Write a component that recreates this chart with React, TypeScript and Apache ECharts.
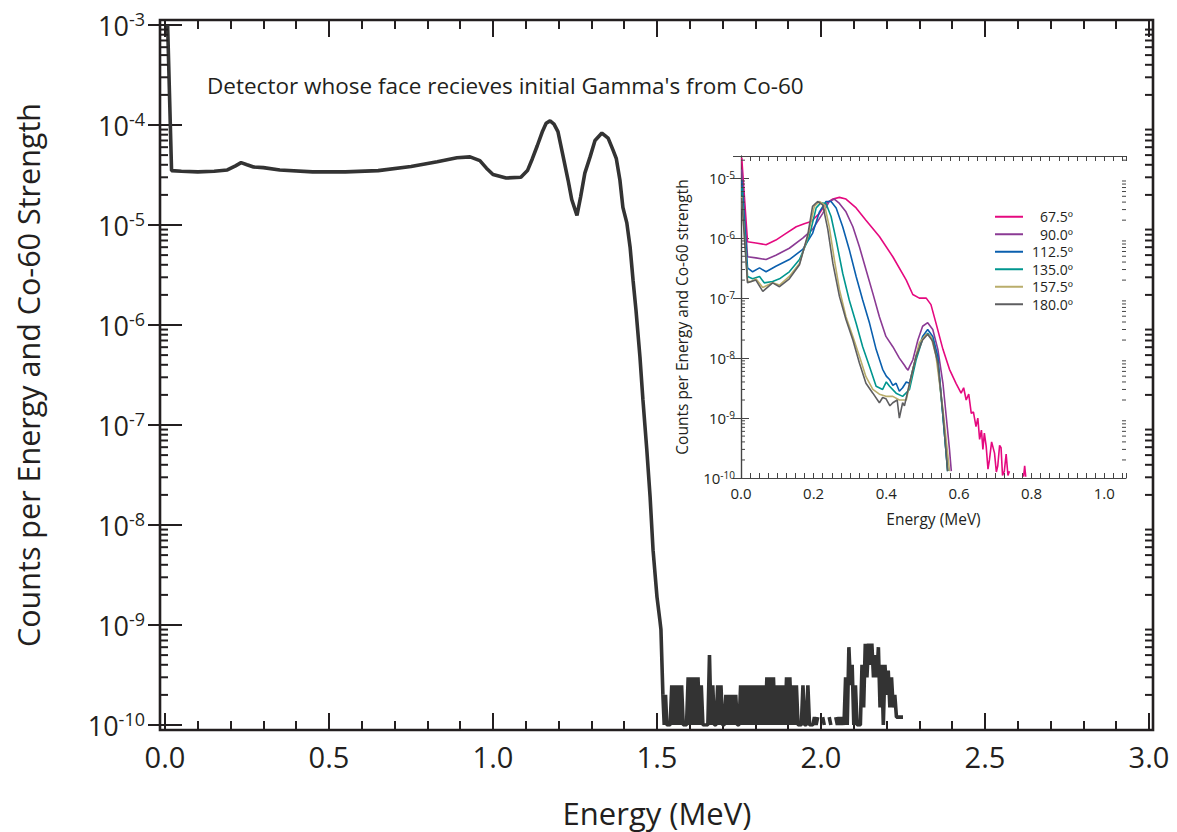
import { useEffect, useRef } from 'react';
import * as echarts from 'echarts';

const FONT = '"Open Sans", "Noto Sans", sans-serif';
const INK = '#231f20';

// ---------- main spectrum: [energy MeV, counts per energy & Co-60 strength] ----------
const mainSpectrum: [number, number | null][] = [
  [0.008, 1.0e-3], [0.02, 3.5e-5], [0.05, 3.45e-5], [0.1, 3.4e-5], [0.15, 3.45e-5],
  [0.19, 3.55e-5], [0.215, 3.9e-5], [0.232, 4.2e-5], [0.25, 4.0e-5], [0.27, 3.8e-5],
  [0.3, 3.75e-5], [0.35, 3.55e-5], [0.45, 3.4e-5], [0.55, 3.4e-5], [0.65, 3.5e-5],
  [0.75, 3.85e-5], [0.83, 4.3e-5], [0.89, 4.7e-5], [0.93, 4.8e-5], [0.96, 4.4e-5],
  [0.98, 3.7e-5], [1.0, 3.2e-5], [1.04, 2.95e-5], [1.085, 3.0e-5], [1.105, 3.5e-5],
  [1.12, 4.6e-5], [1.135, 6.2e-5], [1.15, 8.5e-5], [1.162, 1.04e-4], [1.174, 1.1e-4],
  [1.186, 1.02e-4], [1.198, 8.6e-5], [1.213, 5.0e-5], [1.229, 2.8e-5], [1.24, 1.8e-5],
  [1.256, 1.25e-5], [1.267, 1.9e-5], [1.28, 3.3e-5], [1.296, 4.8e-5], [1.311, 7.0e-5],
  [1.332, 8.3e-5], [1.351, 7.4e-5], [1.366, 5.6e-5], [1.376, 4.6e-5], [1.387, 2.8e-5],
  [1.396, 1.5e-5], [1.408, 1.05e-5], [1.418, 6.0e-6], [1.427, 2.8e-6], [1.436, 1.4e-6],
  [1.448, 4.8e-7], [1.457, 1.8e-7], [1.469, 5.6e-8], [1.479, 1.9e-8], [1.488, 5.6e-9],
  [1.5, 1.9e-9], [1.509, 1.1e-9], [1.512, 9.0e-10], [1.518, 2.0e-10],
];
// finely binned low-count tail above the Co-60 lines
const mainTail: [number, number | null][] = [
  [1.518, 2.0e-10], [1.522, 1.0e-10], [1.526, 2.0e-10], [1.53, 1.0e-10], [1.535, 1.0e-10],
  [1.54, 1.0e-10], [1.545, 2.5e-10], [1.55, 1.0e-10], [1.555, 2.5e-10], [1.56, 1.0e-10],
  [1.565, 2.5e-10], [1.57, 1.0e-10], [1.575, 2.5e-10], [1.58, 1.0e-10], [1.585, 1.0e-10],
  [1.59, 1.0e-10], [1.595, 3.0e-10], [1.6, 1.0e-10], [1.605, 3.0e-10], [1.61, 1.0e-10],
  [1.615, 3.0e-10], [1.62, 1.0e-10], [1.625, 3.0e-10], [1.63, 1.0e-10], [1.635, 2.5e-10],
  [1.64, 1.0e-10], [1.645, 1.0e-10], [1.65, 1.0e-10], [1.655, 1.0e-10], [1.66, 5.0e-10],
  [1.665, 1.0e-10], [1.67, 2.5e-10], [1.675, 1.0e-10], [1.68, 1.0e-10], [1.685, 2.5e-10],
  [1.69, 1.0e-10], [1.695, 2.5e-10], [1.7, 1.0e-10], [1.705, 1.0e-10], [1.71, 2.0e-10],
  [1.715, 1.0e-10], [1.72, 2.0e-10], [1.725, 1.0e-10], [1.73, 2.0e-10], [1.735, 1.0e-10],
  [1.74, 2.0e-10], [1.745, 1.0e-10], [1.75, 1.0e-10], [1.755, 2.5e-10], [1.76, 1.0e-10],
  [1.765, 2.5e-10], [1.77, 1.0e-10], [1.775, 2.5e-10], [1.78, 1.0e-10], [1.785, 2.5e-10],
  [1.79, 1.0e-10], [1.795, 2.5e-10], [1.8, 1.0e-10], [1.805, 2.5e-10], [1.81, 1.0e-10],
  [1.815, 2.5e-10], [1.82, 1.0e-10], [1.825, 2.5e-10], [1.83, 1.0e-10], [1.835, 3.0e-10],
  [1.84, 1.0e-10], [1.845, 3.0e-10], [1.85, 1.0e-10], [1.855, 3.0e-10], [1.86, 1.0e-10],
  [1.865, 2.5e-10], [1.87, 1.0e-10], [1.875, 2.5e-10], [1.88, 1.0e-10], [1.885, 2.5e-10],
  [1.89, 1.0e-10], [1.895, 3.0e-10], [1.9, 1.0e-10], [1.905, 3.0e-10], [1.91, 1.0e-10],
  [1.915, 2.5e-10], [1.92, 1.0e-10], [1.925, 2.5e-10], [1.93, 1.0e-10], [1.935, 1.0e-10],
  [1.94, 1.0e-10], [1.945, 2.5e-10], [1.95, 1.0e-10], [1.955, 1.0e-10], [1.96, 2.5e-10],
  [1.965, 1.0e-10], [1.97, 1.0e-10], [1.975, 1.0e-10], [1.98, 1.2e-10], [1.985, 1.0e-10],
  [1.99, 1.2e-10], [1.995, null], [2.005, 1.2e-10], [2.01, 1.0e-10], [2.015, null],
  [2.025, 1.2e-10], [2.03, 1.0e-10], [2.035, null], [2.045, 1.2e-10], [2.05, 1.0e-10],
  [2.055, 1.2e-10], [2.06, 1.0e-10], [2.065, 1.2e-10], [2.07, 1.0e-10], [2.075, 3.0e-10],
  [2.08, 1.0e-10], [2.085, 6.0e-10], [2.09, 2.5e-10], [2.095, 4.0e-10], [2.1, 1.0e-10],
  [2.105, 2.5e-10], [2.11, 1.0e-10], [2.115, 1.0e-10], [2.12, 1.0e-10], [2.125, 4.0e-10],
  [2.13, 1.5e-10], [2.135, 6.5e-10], [2.14, 3.0e-10], [2.145, 6.5e-10], [2.15, 4.0e-10],
  [2.155, 6.5e-10], [2.16, 3.0e-10], [2.165, 5.0e-10], [2.17, 3.0e-10], [2.175, 6.0e-10],
  [2.18, 1.5e-10], [2.185, 4.0e-10], [2.19, 1.0e-10], [2.195, 4.0e-10], [2.2, 2.0e-10],
  [2.205, 3.5e-10], [2.21, 1.5e-10], [2.215, 3.0e-10], [2.22, 1.5e-10], [2.225, 2.0e-10],
  [2.23, 1.2e-10], [2.24, 1.2e-10], [2.25, 1.2e-10],
];

// ---------- inset: spectra by detector angle ----------
const angleNames = ['67.5º', '90.0º', '112.5º', '135.0º', '157.5º', '180.0º'];
const angleColors = ['#e5097f', '#8b3a94', '#0a5fae', '#00968f', '#b9ad6b', '#5e5e60'];

const angle675: [number, number | null][] = [
  [0.002, 2.2e-5], [0.018, 8.7e-7], [0.041, 8.3e-7], [0.069, 7.8e-7], [0.096, 9.3e-7],
  [0.124, 1.2e-6], [0.152, 1.55e-6], [0.174, 1.74e-6], [0.193, 1.9e-6], [0.216, 2.6e-6],
  [0.234, 3.8e-6], [0.253, 4.5e-6], [0.271, 4.8e-6], [0.289, 4.5e-6], [0.317, 3.2e-6],
  [0.344, 2.0e-6], [0.381, 1.07e-6], [0.418, 4.9e-7], [0.455, 2.0e-7], [0.473, 1.15e-7],
  [0.491, 1.0e-7], [0.51, 1.0e-7], [0.523, 7.8e-8], [0.537, 3.8e-8], [0.556, 1.4e-8],
  [0.574, 6.5e-9], [0.592, 3.8e-9], [0.606, 2.6e-9], [0.613, 3.2e-9], [0.62, 2.0e-9],
  [0.627, 2.5e-9], [0.634, 1.2e-9], [0.64, 1.26e-9], [0.647, 7.2e-10], [0.652, 1.0e-9],
  [0.657, 4.4e-10], [0.662, 6.3e-10], [0.666, 3.0e-10], [0.67, 5.6e-10], [0.675, 3.4e-10],
  [0.68, 1.4e-10], [0.684, 2.0e-10], [0.69, 4.0e-10], [0.698, 2.6e-10], [0.703, 1.26e-10],
  [0.707, 1.6e-10], [0.712, 3.5e-10], [0.716, 3.2e-10], [0.72, 1.1e-10], [0.725, 1.3e-10],
  [0.73, 2.5e-10], [0.735, 1.1e-10], [0.739, 1.3e-10], [0.745, null],
  [0.778, 1.05e-10], [0.781, 1.6e-10], [0.784, 1.05e-10],
];
const angle900: [number, number | null][] = [
  [0.002, 1.4e-5], [0.018, 4.9e-7], [0.041, 4.7e-7], [0.069, 4.4e-7], [0.096, 5.2e-7],
  [0.133, 6.8e-7], [0.17, 1.0e-6], [0.197, 1.4e-6], [0.225, 2.6e-6], [0.243, 4.1e-6],
  [0.257, 4.5e-6], [0.271, 3.8e-6], [0.289, 2.75e-6], [0.308, 1.55e-6], [0.326, 7.2e-7],
  [0.344, 3.0e-7], [0.363, 1.2e-7], [0.381, 4.9e-8], [0.399, 2.3e-8], [0.418, 1.55e-8],
  [0.436, 1.0e-8], [0.45, 7.6e-9], [0.455, 6.8e-9], [0.46, 6.3e-9], [0.464, 7.2e-9],
  [0.473, 9.3e-9], [0.487, 2.0e-8], [0.5, 3.4e-8], [0.514, 3.9e-8], [0.528, 3.0e-8],
  [0.542, 1.4e-8], [0.556, 3.8e-9], [0.565, 1.07e-9], [0.574, 3.0e-10], [0.579, 1.3e-10],
];
const angle1125: [number, number | null][] = [
  [0.002, 9.3e-6], [0.018, 3.2e-7], [0.032, 2.75e-7], [0.051, 3.2e-7], [0.069, 2.75e-7],
  [0.096, 3.4e-7], [0.133, 4.4e-7], [0.17, 6.5e-7], [0.197, 1.2e-6], [0.216, 2.75e-6],
  [0.234, 4.1e-6], [0.248, 4.1e-6], [0.262, 3.2e-6], [0.28, 1.55e-6], [0.298, 6.5e-7],
  [0.317, 2.3e-7], [0.335, 9.3e-8], [0.354, 3.8e-8], [0.372, 1.4e-8], [0.39, 6.5e-9],
  [0.4, 5.0e-9], [0.409, 4.4e-9], [0.418, 3.5e-9], [0.427, 3.8e-9], [0.436, 2.8e-9],
  [0.445, 3.2e-9], [0.455, 4.0e-9], [0.464, 3.8e-9], [0.482, 1.07e-8], [0.5, 2.3e-8],
  [0.514, 3.0e-8], [0.528, 2.3e-8], [0.542, 1.07e-8], [0.556, 1.07e-9], [0.569, 1.3e-10],
];
const angle1350: [number, number | null][] = [
  [0.002, 7.2e-6], [0.018, 2.3e-7], [0.032, 2.1e-7], [0.051, 2.3e-7], [0.064, 1.8e-7],
  [0.087, 1.9e-7], [0.106, 2.1e-7], [0.133, 2.75e-7], [0.161, 4.4e-7], [0.188, 1.07e-6],
  [0.207, 3.2e-6], [0.22, 3.9e-6], [0.234, 3.8e-6], [0.248, 2.3e-6], [0.262, 9.3e-7],
  [0.28, 2.6e-7], [0.298, 9.3e-8], [0.317, 3.8e-8], [0.335, 1.55e-8], [0.354, 7.2e-9],
  [0.372, 3.4e-9], [0.39, 3.0e-9], [0.4, 4.0e-9], [0.409, 3.4e-9], [0.427, 2.6e-9],
  [0.445, 2.3e-9], [0.464, 3.0e-9], [0.482, 9.3e-9], [0.5, 2.1e-8], [0.514, 2.6e-8],
  [0.528, 2.0e-8], [0.542, 8.3e-9], [0.556, 1.07e-9], [0.569, 1.3e-10],
];
const angle1575: [number, number | null][] = [
  [0.002, 4.9e-6], [0.018, 1.9e-7], [0.028, 1.9e-7], [0.041, 2.1e-7], [0.06, 1.5e-7],
  [0.087, 1.8e-7], [0.106, 1.65e-7], [0.133, 2.3e-7], [0.161, 3.8e-7], [0.184, 1.07e-6],
  [0.202, 3.4e-6], [0.216, 4.1e-6], [0.23, 3.6e-6], [0.243, 1.55e-6], [0.257, 4.4e-7],
  [0.271, 1.4e-7], [0.289, 4.9e-8], [0.308, 2.3e-8], [0.326, 1.07e-8], [0.344, 4.9e-9],
  [0.363, 3.0e-9], [0.381, 2.5e-9], [0.399, 2.3e-9], [0.418, 2.3e-9], [0.436, 2.0e-9],
  [0.455, 2.0e-9], [0.473, 6.5e-9], [0.491, 1.8e-8], [0.51, 2.5e-8], [0.523, 2.3e-8],
  [0.537, 1.07e-8], [0.556, 1.4e-9], [0.574, 1.3e-10],
];
const angle1800: [number, number | null][] = [
  [0.002, 4.7e-6], [0.018, 1.8e-7], [0.041, 2.0e-7], [0.06, 1.3e-7], [0.087, 1.8e-7],
  [0.106, 1.55e-7], [0.133, 2.1e-7], [0.161, 3.6e-7], [0.184, 1.15e-6], [0.197, 3.4e-6],
  [0.211, 4.1e-6], [0.225, 3.6e-6], [0.239, 1.4e-6], [0.253, 3.8e-7], [0.271, 1.07e-7],
  [0.289, 4.4e-8], [0.308, 2.0e-8], [0.326, 8.3e-9], [0.344, 3.8e-9], [0.363, 2.6e-9],
  [0.381, 1.8e-9], [0.39, 2.2e-9], [0.399, 2.1e-9], [0.41, 1.6e-9], [0.418, 1.8e-9],
  [0.43, 2.0e-9], [0.436, 1.0e-9], [0.445, 1.8e-9], [0.45, 1.6e-9], [0.464, 3.8e-9],
  [0.482, 1.07e-8], [0.5, 2.0e-8], [0.514, 2.5e-8], [0.528, 1.9e-8], [0.542, 8.3e-9],
  [0.556, 1.2e-9], [0.569, 1.3e-10],
];
const angleSeries = [angle675, angle900, angle1125, angle1350, angle1575, angle1800];

const mainXTicks = [0, 0.5, 1.0, 1.5, 2.0, 2.5, 3.0];
const insetXTicks = [0, 0.2, 0.4, 0.6, 0.8, 1.0];

const texts = {
  annotation: "Detector whose face recieves initial Gamma's from Co-60",
  mainX: 'Energy (MeV)',
  mainY: 'Counts per Energy and Co-60 Strength',
  insetX: 'Energy (MeV)',
  insetY: 'Counts per Energy and Co-60 strength',
};

const powLabel = (v: number) => {
  const e = Math.log10(v);
  const r = Math.round(e);
  if (Math.abs(e - r) > 1e-6) return '';
  return `{b|10}{s|${r}}`;
};

const near = (v: number, list: number[]) => list.some((t) => Math.abs(t - v) < 1e-6);

export default function App() {
  const ref = useRef<HTMLDivElement>(null);

  useEffect(() => {
    if (!ref.current) return;
    const chart = echarts.init(ref.current, null, { renderer: 'svg' });

    const mainTick = { show: true, inside: true, length: 17, lineStyle: { color: INK, width: 2 } };
    const mainMinor = { show: true, splitNumber: 5, length: 9, lineStyle: { color: INK, width: 2 } };
    const insetTick = { show: true, inside: true, length: 5, lineStyle: { color: '#444', width: 1 } };
    const insetLine = { show: true, lineStyle: { color: '#444', width: 1.2 } };
    const mainLine = { color: '#333333', width: 3.6 };

    const option: any = {
      animation: false,
      backgroundColor: '#ffffff',
      textStyle: { fontFamily: FONT },
      grid: [
        { left: 165, top: 25, width: 984, height: 700, outerBoundsMode: 'none' },
        { left: 741, top: 156, width: 385, height: 322, outerBoundsMode: 'none' },
      ],
      xAxis: [
        {
          gridIndex: 0, type: 'value', min: 0, max: 3, interval: 0.5, position: 'bottom', offset: 5,
          axisLine: { show: false }, axisTick: mainTick, minorTick: mainMinor,
          splitLine: { show: false }, minorSplitLine: { show: false },
          axisLabel: {
            fontSize: 29, color: INK, margin: 12, fontFamily: FONT,
            formatter: (v: number) => (near(v, mainXTicks) ? v.toFixed(1) : ''),
          },
          name: texts.mainX, nameLocation: 'middle', nameGap: 67,
          nameTextStyle: { fontSize: 31, color: INK, fontFamily: FONT },
        },
        {
          gridIndex: 0, type: 'value', min: 0, max: 3, interval: 0.5, position: 'top', offset: 5,
          axisLine: { show: false }, axisTick: mainTick, minorTick: mainMinor,
          splitLine: { show: false }, axisLabel: { show: false },
        },
        {
          gridIndex: 1, type: 'value', min: 0, max: 1.06, interval: 0.025, position: 'bottom',
          axisLine: insetLine, axisTick: insetTick, splitLine: { show: false },
          axisLabel: {
            fontSize: 15, color: INK, margin: 7, fontFamily: FONT,
            formatter: (v: number) => (near(v, insetXTicks) ? v.toFixed(1) : ''),
          },
          name: texts.insetX, nameLocation: 'middle', nameGap: 33,
          nameTextStyle: { fontSize: 15.5, color: INK, fontFamily: FONT },
        },
        {
          gridIndex: 1, type: 'value', min: 0, max: 1.06, interval: 0.025, position: 'top',
          axisLine: insetLine, axisTick: insetTick, splitLine: { show: false }, axisLabel: { show: false },
        },
      ],
      yAxis: [
        {
          gridIndex: 0, type: 'log', logBase: 10, min: 1e-10, max: 1e-3, position: 'left', offset: 5,
          axisLine: { show: false }, axisTick: mainTick, splitLine: { show: false },
          axisLabel: {
            margin: 15, color: INK, formatter: powLabel,
            rich: {
              b: { fontSize: 27, lineHeight: 30, color: INK, fontFamily: FONT },
              s: { fontSize: 18, lineHeight: 16, verticalAlign: 'top', color: INK, fontFamily: FONT },
            },
          },
          name: texts.mainY, nameLocation: 'middle', nameGap: 117,
          nameTextStyle: { fontSize: 30.5, color: INK, fontFamily: FONT },
        },
        {
          gridIndex: 0, type: 'log', logBase: 10, min: 1e-10, max: 1e-3, position: 'right', offset: 4,
          axisLine: { show: false }, axisTick: mainTick, splitLine: { show: false }, axisLabel: { show: false },
        },
        {
          gridIndex: 1, type: 'log', logBase: 10, min: 1e-10, max: 2.35e-5, position: 'left',
          axisLine: insetLine, axisTick: { ...insetTick, length: 8 }, splitLine: { show: false },
          axisLabel: {
            margin: 6, color: INK, formatter: powLabel, showMaxLabel: false,
            rich: {
              b: { fontSize: 15, lineHeight: 17, color: INK, fontFamily: FONT },
              s: { fontSize: 10, lineHeight: 10, verticalAlign: 'top', color: INK, fontFamily: FONT },
            },
          },
          name: texts.insetY, nameLocation: 'middle', nameGap: 51,
          nameTextStyle: { fontSize: 15.5, color: INK, fontFamily: FONT },
        },
        {
          gridIndex: 1, type: 'log', logBase: 10, min: 1e-10, max: 2.35e-5, position: 'right',
          axisLine: insetLine, axisTick: { ...insetTick, length: 8 }, splitLine: { show: false }, axisLabel: { show: false },
        },
      ],
      legend: {
        orient: 'vertical', left: 990, top: 204, itemWidth: 28, itemHeight: 2, itemGap: 2,
        icon: 'rect', data: angleNames,
        formatter: (n: string) => `{r|${n}}`,
        textStyle: {
          color: INK, fontFamily: FONT, fontSize: 14, lineHeight: 15.5,
          rich: { r: { width: 45, align: 'right', fontSize: 14, lineHeight: 15.5, color: INK, fontFamily: FONT } },
        },
      },
      series: [
        {
          type: 'line', name: 'Co-60 detector', xAxisIndex: 0, yAxisIndex: 0, data: mainSpectrum,
          showSymbol: false, connectNulls: false, lineStyle: mainLine, itemStyle: { color: mainLine.color },
        },
        {
          type: 'line', name: 'Co-60 detector tail', xAxisIndex: 0, yAxisIndex: 0, data: mainTail,
          showSymbol: false, connectNulls: false, lineStyle: mainLine, itemStyle: { color: mainLine.color },
        },
        ...angleSeries.map((d, i) => ({
          type: 'line', name: angleNames[i], xAxisIndex: 2, yAxisIndex: 2, data: d,
          showSymbol: false, connectNulls: false,
          lineStyle: { color: angleColors[i], width: 1.6 }, itemStyle: { color: angleColors[i] },
        })),
      ],
    };
    chart.setOption(option);

    // minor log ticks (2..9 per decade) placed with the axes' own scales
    const graphics: any[] = [
      {
        type: 'rect', shape: { x: 160, y: 20, width: 993, height: 710 },
        style: { fill: 'none', stroke: INK, lineWidth: 2.6 }, z: 10,
      },
      {
        type: 'text', x: 207, y: 85,
        style: { text: texts.annotation, fill: INK, font: `22.5px ${FONT}`, verticalAlign: 'middle' }, z: 10,
      },
    ];
    for (let d = -10; d < -3; d++) {
      for (let m = 2; m <= 9; m++) {
        const y = chart.convertToPixel({ yAxisIndex: 0 }, m * Math.pow(10, d)) as number;
        graphics.push(
          { type: 'line', shape: { x1: 160, y1: y, x2: 168, y2: y }, style: { stroke: INK, lineWidth: 2 }, z: 10 },
          { type: 'line', shape: { x1: 1153, y1: y, x2: 1145, y2: y }, style: { stroke: INK, lineWidth: 2 }, z: 10 },
        );
      }
    }
    for (let d = -10; d < -4; d++) {
      for (let m = 2; m <= 9; m++) {
        const v = m * Math.pow(10, d);
        if (v > 2.35e-5) continue;
        const y = chart.convertToPixel({ yAxisIndex: 2 }, v) as number;
        graphics.push(
          { type: 'line', shape: { x1: 741, y1: y, x2: 745, y2: y }, style: { stroke: '#444', lineWidth: 1 }, z: 10 },
          { type: 'line', shape: { x1: 1126, y1: y, x2: 1122, y2: y }, style: { stroke: '#444', lineWidth: 1 }, z: 10 },
        );
      }
    }
    chart.setOption({ graphic: graphics });

    return () => chart.dispose();
  }, []);

  return (
    <div
      ref={ref}
      style={{ position: 'absolute', left: 0, top: 0, width: 1177, height: 832, background: '#fff' }}
    />
  );
}
